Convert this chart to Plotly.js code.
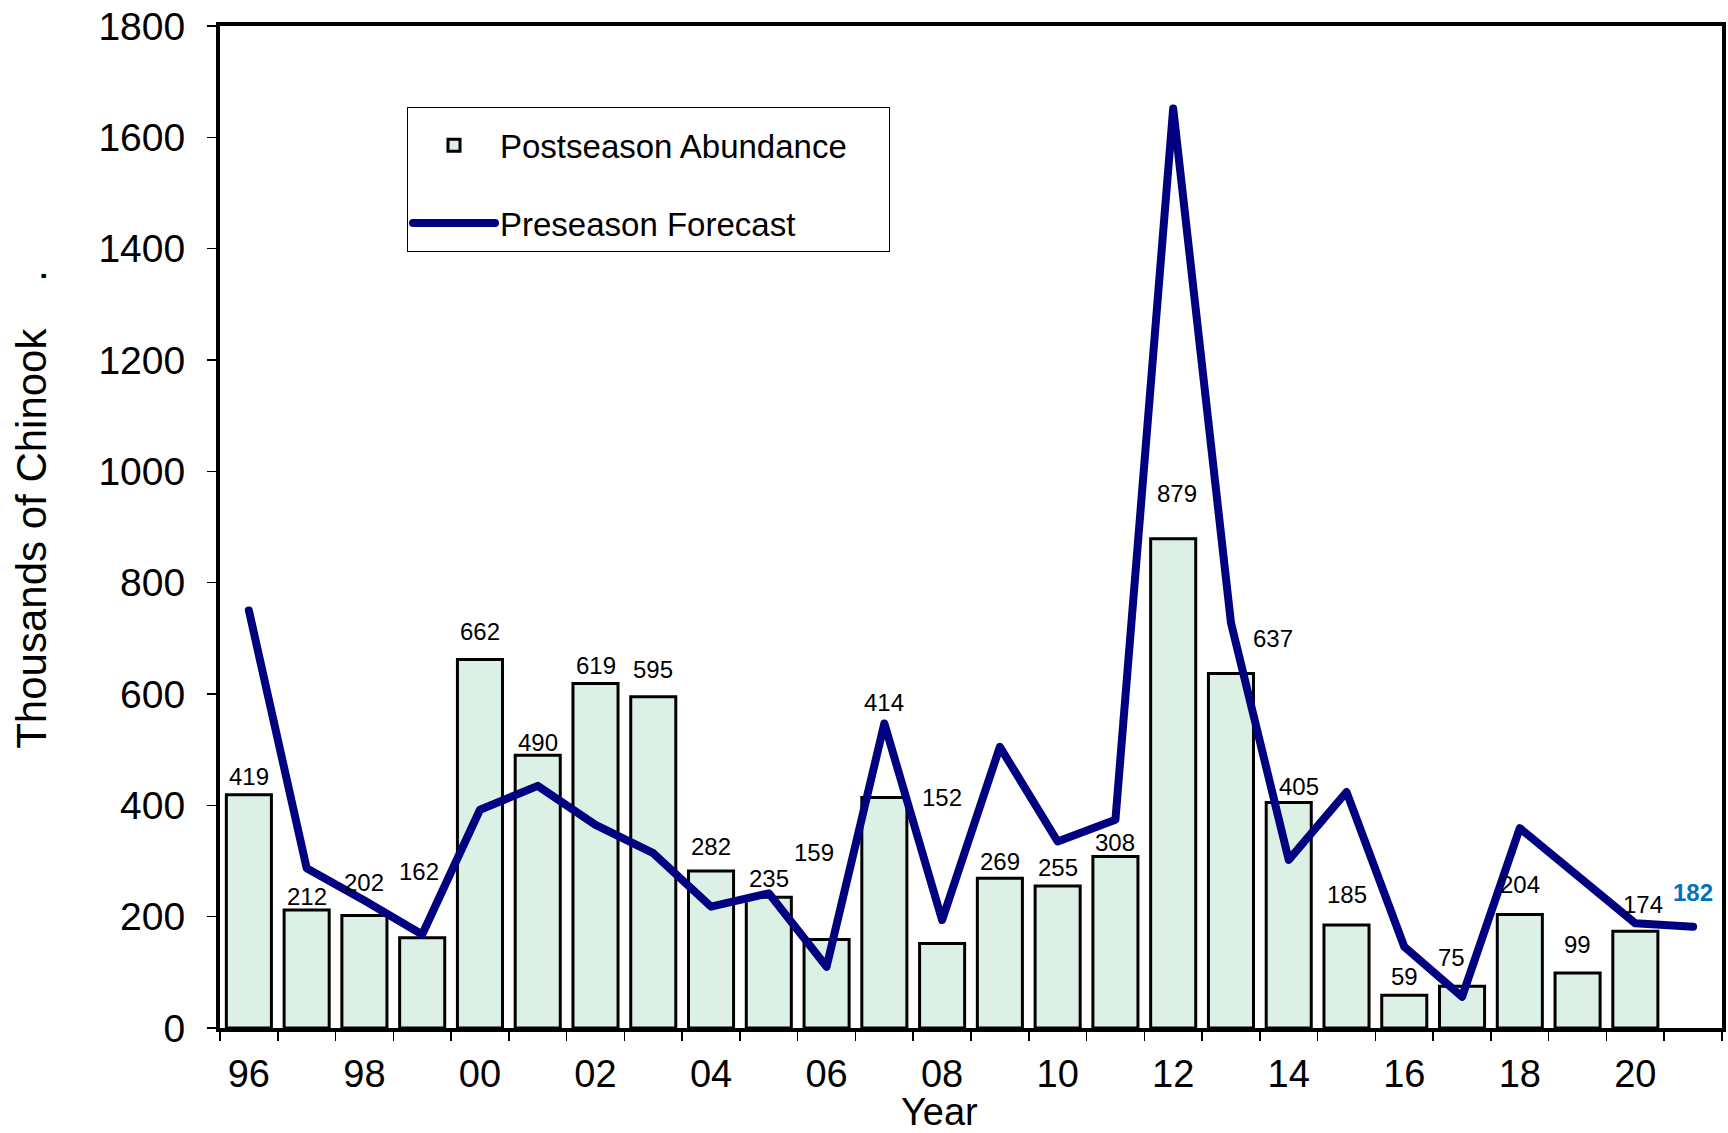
<!DOCTYPE html>
<html>
<head>
<meta charset="utf-8">
<script src="https://cdn.plot.ly/plotly-3.0.1.min.js"></script>
<style>
  html, body { margin: 0; padding: 0; background: #ffffff; }
  #chart { width: 1728px; height: 1133px; }
  #chart .js-line { stroke-linecap: round !important; stroke-linejoin: round !important; }
</style>
</head>
<body>
<div id="chart"></div>
<script>
// ---- data ----
const years = ['1996','1997','1998','1999','2000','2001','2002','2003','2004','2005','2006','2007','2008',
               '2009','2010','2011','2012','2013','2014','2015','2016','2017','2018','2019','2020','2021'];
const tickLabels = ['96','','98','','00','','02','','04','','06','','08','','10','','12','','14','','16','','18','','20',''];
const postseasonAbundance = [419,212,202,162,662,490,619,595,282,235,159,414,152,269,255,308,879,637,405,185,59,75,204,99,174,null];
const preseasonForecast = [750,287,229,168,392,435,365,314,218,242,110,547,194,505,335,374,1652,728,302,424,146,56,359,274,188,182];

// ---- label placement (style only, pixels) ----
const labelYShift = [18,13,33,66,28,13,18,27,25,19,87,95,146,17,19,14,45,35,16,31,19,29,30,28,27];
const labelXShift = [0,0,0,-3,0,0,0,0,0,0,-13,0,0,0,0,0,4,42,10,0,0,-11,0,0,8];

const FONT = 'Liberation Sans, Arial, sans-serif';
const NB = '\u00A0';
const ZW = '\u200B';

const bars = {
  type: 'bar',
  name: 'Postseason Abundance' + NB.repeat(4),
  x: years,
  y: postseasonAbundance,
  marker: { color: '#DCF0E6', line: { color: '#000000', width: 3 } },
  legendgroup: 'a',
  hoverinfo: 'x+y'
};

const line = {
  type: 'scatter',
  mode: 'lines',
  name: 'Preseason Forecast',
  x: years,
  y: preseasonForecast,
  line: { color: '#000080', width: 8 },
  legendgroup: 'b'
};

// bar value labels (category index on the category axis)
const annotations = postseasonAbundance
  .map((v, i) => v === null ? null : ({
    x: i, y: v, xref: 'x', yref: 'y',
    text: String(v), showarrow: false,
    xanchor: 'center', yanchor: 'middle',
    xshift: labelXShift[i], yshift: labelYShift[i],
    font: { family: FONT, size: 24, color: '#000000' }
  }))
  .filter(a => a !== null);

// latest forecast label (blue, bold)
const lastIdx = preseasonForecast.length - 1;
annotations.push({
  x: lastIdx, y: preseasonForecast[lastIdx], xref: 'x', yref: 'y',
  text: '<b>' + preseasonForecast[lastIdx] + '</b>', showarrow: false,
  xanchor: 'center', yanchor: 'middle', xshift: 0, yshift: 34,
  font: { family: FONT, size: 24, color: '#0070C0' }
});

const layout = {
  width: 1728, height: 1133,
  margin: { l: 220, r: 6, t: 26, b: 105 },
  paper_bgcolor: '#ffffff', plot_bgcolor: '#ffffff',
  font: { family: FONT, color: '#000000' },
  bargap: 0.22,
  showlegend: true,
  legend: {
    x: 0.1245, y: 0.919, xanchor: 'left', yanchor: 'top',
    bgcolor: '#ffffff', bordercolor: '#000000', borderwidth: 1,
    font: { family: FONT, size: 33, color: '#000000' },
    title: { text: NB, font: { family: FONT, size: 7 } },
    traceorder: 'grouped', tracegroupgap: 32,
    itemwidth: 82
  },
  xaxis: {
    type: 'category',
    categoryorder: 'array', categoryarray: years,
    range: [-0.5, years.length - 0.5], autorange: false,
    tickmode: 'array', tickvals: years, ticktext: tickLabels,
    tickson: 'boundaries', ticks: 'outside', ticklen: 9, tickwidth: 1.5, tickcolor: '#000000',
    ticklabelstandoff: 9,
    tickfont: { family: FONT, size: 38, color: '#000000' },
    showline: true, linecolor: '#000000', linewidth: 4, mirror: true,
    showgrid: false, zeroline: false,
    title: { text: 'Year' + NB.repeat(6) + ZW, font: { family: FONT, size: 38, color: '#000000' }, standoff: 13 }
  },
  yaxis: {
    range: [0, 1800], autorange: false, dtick: 200, tick0: 0,
    ticks: 'outside', ticklen: 9, tickwidth: 1.5, tickcolor: '#000000',
    ticklabelstandoff: 14,
    tickfont: { family: FONT, size: 39, color: '#000000' },
    showline: true, linecolor: '#000000', linewidth: 4, mirror: true,
    showgrid: false, zeroline: false,
    title: {
      text: ZW + NB.repeat(3) + 'Thousands of Chinook' + NB.repeat(4) + '.',
      font: { family: 'Liberation Sans Narrow, Arial Narrow, ' + FONT, size: 42, color: '#000000' },
      standoff: 40
    }
  },
  annotations: annotations
};

Plotly.newPlot('chart', [bars, line], layout, { displayModeBar: false, staticPlot: true });
</script>
</body>
</html>
